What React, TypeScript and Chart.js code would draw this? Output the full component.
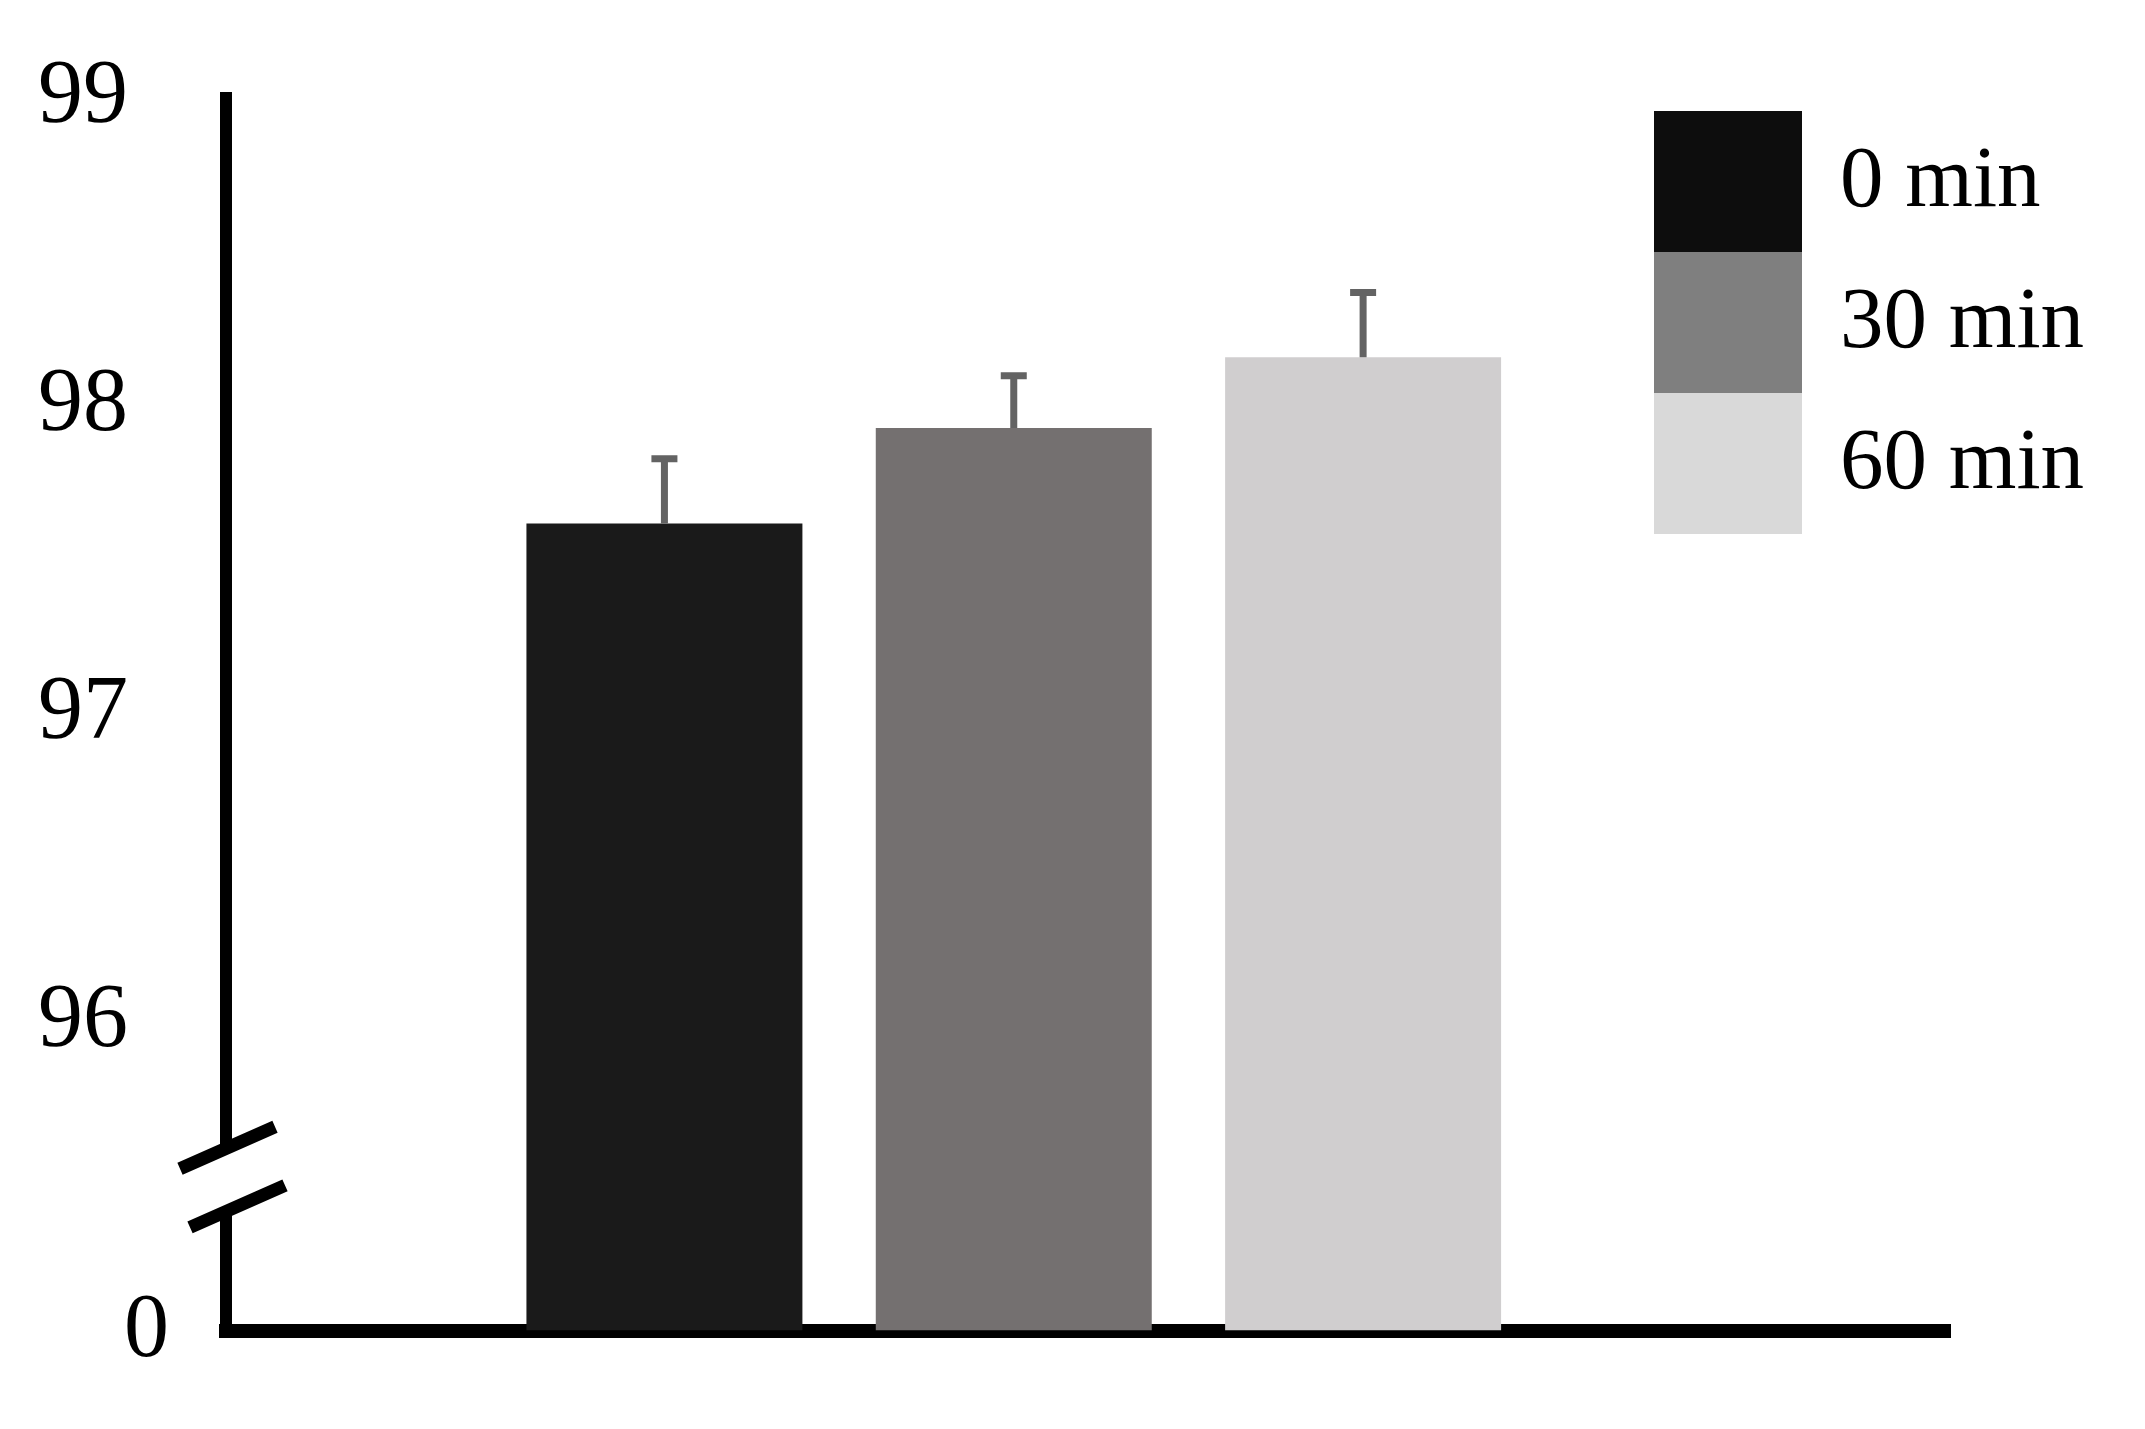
import { useEffect, useRef } from "react";
import { Chart, registerables, Plugin } from "chart.js";

Chart.register(...registerables);

// data
const categories = ["0 min", "30 min", "60 min"];
const means = [97.62, 97.93, 98.16];
const errors = [0.21, 0.17, 0.21];
const barColors = ["#1a1a1a", "#747070", "#d0cecf"];
const legendColors = ["#0d0d0d", "#7f7f7f", "#d9d9d9"];
const yTicks = [95, 96, 97, 98, 99];
const yTickText = ["0", "96", "97", "98", "99"];

const FONT = "'Liberation Serif', 'Times New Roman', serif";

// "0" at the foot of the axis and the // break marks
const axisBreak: Plugin<"bar"> = {
  id: "axisBreak",
  afterDraw(chart) {
    const { ctx, chartArea } = chart;
    const y = chart.scales.y;
    const ax = chartArea.left;
    const yUp = y.getPixelForValue(95.59);
    const yLo = y.getPixelForValue(95.4);
    ctx.save();
    ctx.fillStyle = "#fff";
    ctx.fillRect(ax - 9, yUp, 18, yLo - yUp);
    ctx.strokeStyle = "#000";
    ctx.lineWidth = 13;
    ctx.lineCap = "butt";
    ctx.beginPath();
    ctx.moveTo(ax - 46, yUp + 20);
    ctx.lineTo(ax + 49, yUp - 22);
    ctx.moveTo(ax - 36, yLo + 20);
    ctx.lineTo(ax + 59, yLo - 22);
    ctx.stroke();

    ctx.fillStyle = "#000";
    ctx.font = `90px ${FONT}`;
    ctx.textAlign = "right";
    ctx.textBaseline = "middle";
    ctx.fillText(yTickText[0], ax - 57, y.getPixelForValue(yTicks[0]) + 2);
    ctx.restore();
  },
};

const errorBars: Plugin<"bar"> = {
  id: "errorBars",
  afterDatasetsDraw(chart) {
    const { ctx } = chart;
    const y = chart.scales.y;
    const meta = chart.getDatasetMeta(0);
    ctx.save();
    ctx.strokeStyle = "#636363";
    ctx.lineWidth = 7;
    meta.data.forEach((bar: any, i) => {
      const top = y.getPixelForValue(means[i] + errors[i]);
      ctx.beginPath();
      ctx.moveTo(bar.x, bar.y);
      ctx.lineTo(bar.x, top);
      ctx.moveTo(bar.x - 13, top);
      ctx.lineTo(bar.x + 13, top);
      ctx.stroke();
    });
    ctx.restore();
  },
};

const boxLegend: Plugin<"bar"> = {
  id: "boxLegend",
  afterDraw(chart) {
    const { ctx } = chart;
    const left = 1654;
    const top = 111;
    const w = 148;
    const h = 141;
    ctx.save();
    ctx.font = `87px ${FONT}`;
    ctx.textAlign = "left";
    ctx.textBaseline = "middle";
    categories.forEach((c, i) => {
      ctx.fillStyle = legendColors[i];
      ctx.fillRect(left, top + i * h, w, h);
      ctx.fillStyle = "#000";
      ctx.fillText(c, left + w + 38, top + i * h + h / 2 + 2);
    });
    ctx.restore();
  },
};

const App = () => {
  const canvasRef = useRef<HTMLCanvasElement | null>(null);

  useEffect(() => {
    document.body.style.margin = "0";
    const chart = new Chart(canvasRef.current!, {
      type: "bar",
      data: {
        datasets: [
          {
            label: "value",
            data: means.map((v, i) => ({ x: i, y: v })),
            backgroundColor: barColors,
            borderWidth: 0,
            base: 95,
            barPercentage: 0.79,
            categoryPercentage: 1,
          },
        ],
      },
      options: {
        animation: false,
        responsive: true,
        maintainAspectRatio: false,
        layout: { padding: { left: 0, top: 86, right: 195, bottom: 89 } },
        plugins: { legend: { display: false }, tooltip: { enabled: false } },
        scales: {
          x: {
            type: "linear",
            min: -1.255,
            max: 3.68,
            offset: false,
            grid: { display: false, drawTicks: false, offset: false },
            ticks: { display: false },
            border: { display: true, color: "#000", width: 14 },
            afterBuildTicks: (s) => {
              s.ticks = categories.map((_, i) => ({ value: i }));
            },
            afterFit: (s) => {
              s.height = 0;
            },
          },
          y: {
            min: 95,
            max: 99,
            grid: { display: false, drawTicks: false },
            border: { display: true, color: "#000", width: 12 },
            afterBuildTicks: (s) => {
              s.ticks = yTicks.map((v) => ({ value: v }));
            },
            ticks: {
              padding: 98,
              color: "#000",
              autoSkip: false,
              font: { family: FONT, size: 90, lineHeight: 0.01 },
              callback: (v) => {
                const i = yTicks.indexOf(Number(v));
                return i <= 0 ? "" : yTickText[i];
              },
            },
            afterFit: (s) => {
              s.width = 226;
            },
          },
        },
      },
      plugins: [errorBars, axisBreak, boxLegend],
    });
    return () => chart.destroy();
  }, []);

  return (
    <div style={{ width: "2145px", height: "1429px", background: "#fff" }}>
      <canvas ref={canvasRef} />
    </div>
  );
};

export default App;
